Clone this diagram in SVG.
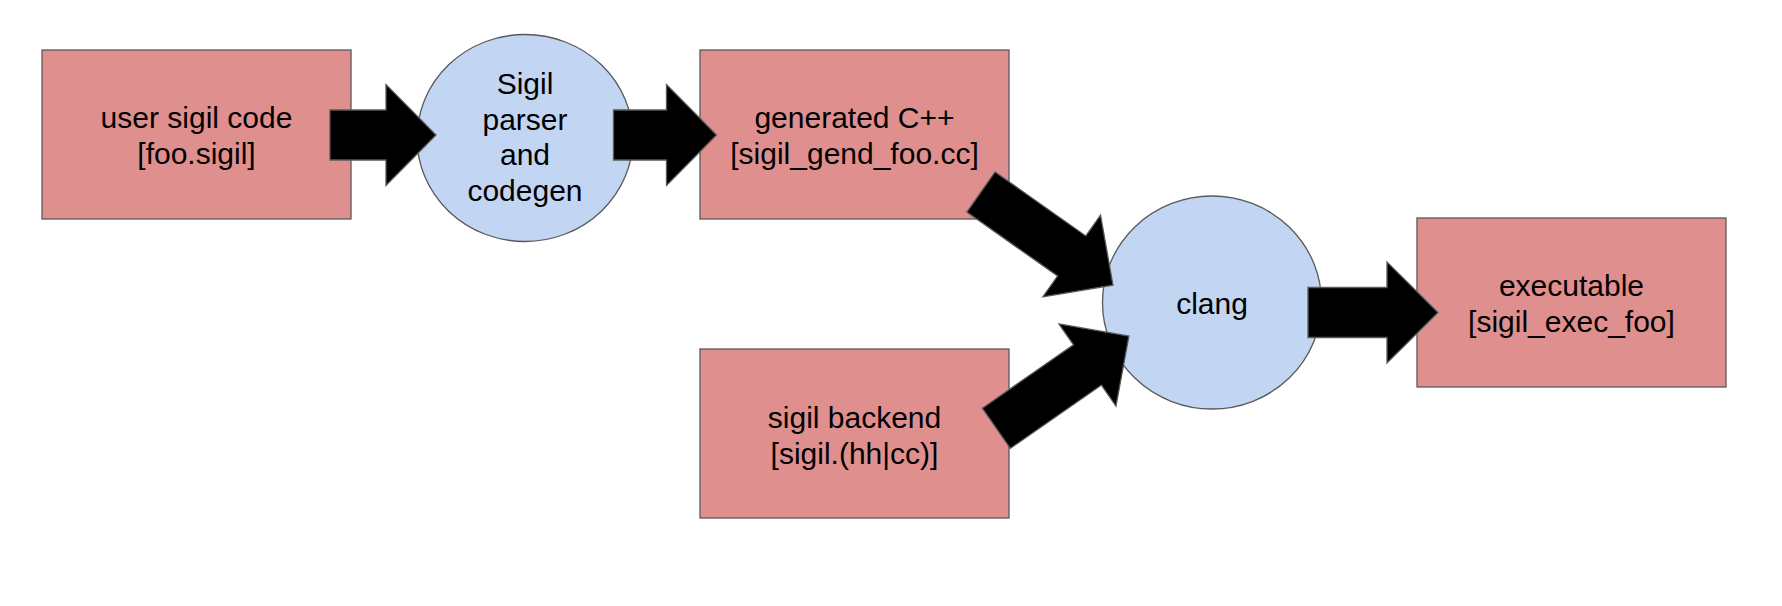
<svg xmlns="http://www.w3.org/2000/svg" width="1782" height="606" viewBox="0 0 1782 606">
<style>
.box{fill:#e08f8f;stroke:#595959;stroke-width:1.3}
.proc{fill:#c2d5f3;stroke:#595959;stroke-width:1.3}
.lbl{font-family:"Liberation Sans",Arial,sans-serif;font-size:30px;fill:#000;text-anchor:middle}
.arr{fill:#000;stroke:#595959;stroke-width:1.3;stroke-linejoin:miter}
</style>
<rect width="1782" height="606" fill="#fff"/>
<g id="user-code">
<rect class="box" x="42" y="50" width="309" height="169"/>
<text class="lbl" x="196.5" y="128">user sigil code</text>
<text class="lbl" x="196.5" y="164">[foo.sigil]</text>
</g>
<g id="parser">
<ellipse class="proc" cx="525" cy="138" rx="108" ry="103.5"/>
<text class="lbl" x="525" y="94">Sigil</text>
<text class="lbl" x="525" y="129.5">parser</text>
<text class="lbl" x="525" y="165">and</text>
<text class="lbl" x="525" y="200.5">codegen</text>
</g>
<g id="generated">
<rect class="box" x="700" y="50" width="309" height="169"/>
<text class="lbl" x="854.5" y="128">generated C++</text>
<text class="lbl" x="854.5" y="164">[sigil_gend_foo.cc]</text>
</g>
<g id="backend">
<rect class="box" x="700" y="349" width="309" height="169"/>
<text class="lbl" x="854.5" y="427.5">sigil backend</text>
<text class="lbl" x="854.5" y="463.5">[sigil.(hh|cc)]</text>
</g>
<g id="clang">
<ellipse class="proc" cx="1212" cy="302.5" rx="109.5" ry="106.5"/>
<text class="lbl" x="1212" y="313.5">clang</text>
</g>
<g id="executable">
<rect class="box" x="1417" y="218" width="309" height="169"/>
<text class="lbl" x="1571.5" y="295.5">executable</text>
<text class="lbl" x="1571.5" y="331.5">[sigil_exec_foo]</text>
</g>
<g id="connectors">
<path class="arr" transform="translate(330,135)" d="M0,-25 L56,-25 L56,-50.5 L106,0 L56,50.5 L56,25 L0,25 Z"/>
<path class="arr" transform="translate(613.5,135)" d="M0,-25 L53,-25 L53,-50.5 L103,0 L53,50.5 L53,25 L0,25 Z"/>
<path class="arr" transform="translate(981,192) rotate(35.2)" d="M0,-24.5 L111,-24.5 L111,-50 L161.5,0 L111,50 L111,24.5 L0,24.5 Z"/>
<path class="arr" transform="translate(996.3,428.3) rotate(-34.8)" d="M0,-24.5 L111,-24.5 L111,-50 L161.5,0 L111,50 L111,24.5 L0,24.5 Z"/>
<path class="arr" transform="translate(1308,312.5)" d="M0,-25 L79,-25 L79,-50.5 L130,0 L79,50.5 L79,25 L0,25 Z"/>
</g>
</svg>
